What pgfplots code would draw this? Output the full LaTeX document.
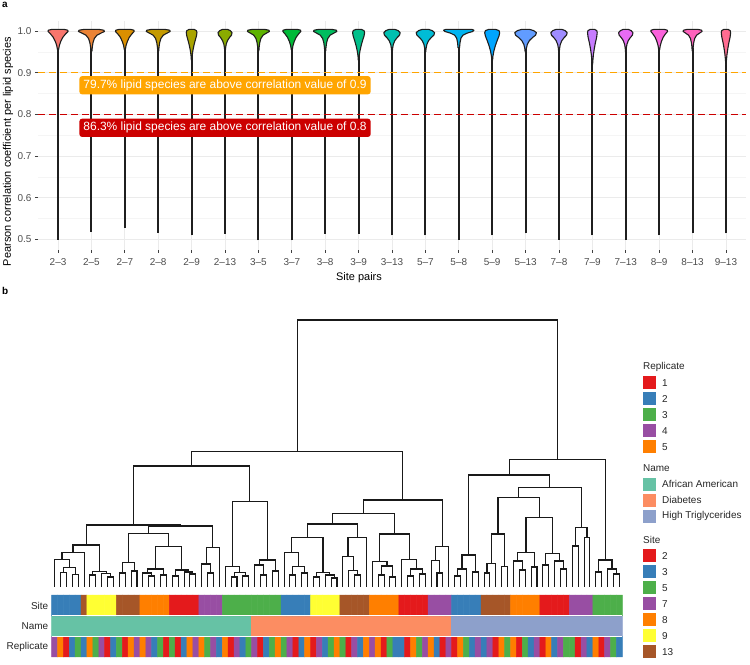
\documentclass[border=0pt]{standalone}
\usepackage{pgfplots}
\pgfplotsset{compat=1.18}
\usepackage{fontspec}
\setmainfont{Liberation Sans}
\definecolor{v0}{HTML}{F8766D}\definecolor{v1}{HTML}{EB8335}\definecolor{v2}{HTML}{DA8F00}
\definecolor{v3}{HTML}{C49A00}\definecolor{v4}{HTML}{A9A400}\definecolor{v5}{HTML}{8AAB00}
\definecolor{v6}{HTML}{5EB300}\definecolor{v7}{HTML}{00BA38}\definecolor{v8}{HTML}{00BD5F}
\definecolor{v9}{HTML}{00C08B}\definecolor{v10}{HTML}{00C0B0}\definecolor{v11}{HTML}{00BCD6}
\definecolor{v12}{HTML}{00B4F0}\definecolor{v13}{HTML}{00A5FF}\definecolor{v14}{HTML}{619CFF}
\definecolor{v15}{HTML}{9F8CFF}\definecolor{v16}{HTML}{C77CFF}\definecolor{v17}{HTML}{E76BF3}
\definecolor{v18}{HTML}{FA62DB}\definecolor{v19}{HTML}{FF62BC}\definecolor{v20}{HTML}{FF6C91}
\definecolor{sred}{HTML}{E41A1C}\definecolor{sblue}{HTML}{377EB8}\definecolor{sgreen}{HTML}{4DAF4A}
\definecolor{spurple}{HTML}{984EA3}\definecolor{sorange}{HTML}{FF7F00}\definecolor{syellow}{HTML}{FFFF33}
\definecolor{sbrown}{HTML}{A65628}
\definecolor{naa}{HTML}{66C2A5}\definecolor{ndia}{HTML}{FC8D62}\definecolor{nhtg}{HTML}{8DA0CB}
\definecolor{hlnine}{HTML}{FFA500}\definecolor{hleight}{HTML}{CC0000}
\definecolor{tickc}{HTML}{4D4D4D}
\newcommand{\lgd}[3]{\fill[#1] (643.3bp,#2bp) ++(0,-6.5bp) rectangle ++(13bp,13bp);
  \node[anchor=west, font=\fontsize{10}{12}\selectfont, inner sep=0pt, text=black!85] at (662bp,#2bp) {#3};}
\begin{document}
\begin{tikzpicture}
\useasboundingbox (0,0) rectangle (750bp,665bp);
% ---------------- panel a ----------------
\begin{axis}[
  at={(38bp,415bp)}, anchor=south west, scale only axis,
  width=708bp, height=229.4bp,
  xmin=-0.6, xmax=20.6, ymin=0.475, ymax=1.025,
  xtick={0,1,...,20},
  xticklabels={2--3,2--5,2--7,2--8,2--9,2--13,3--5,3--7,3--8,3--9,3--13,5--7,5--8,5--9,5--13,7--8,7--9,7--13,8--9,8--13,9--13},
  ytick={0.5,0.6,0.7,0.8,0.9,1},
  yticklabels={0.5,0.6,0.7,0.8,0.9,1.0},
  minor ytick={0.55,0.65,0.75,0.85,0.95},
  xmajorgrids, ymajorgrids, yminorgrids,
  major grid style={draw=black!8, line width=0.9bp},
  minor grid style={draw=black!4, line width=0.6bp},
  axis line style={draw=none},
  major tick length=3bp, minor tick length=0pt,
  tick align=outside,
  major tick style={draw=black!75, line width=0.9bp},
  xtick pos=bottom, ytick pos=left,
  ticklabel style={font=\fontsize{10}{12}\selectfont, text=tickc},
  xticklabel style={yshift=-2bp},
  /pgf/number format/assume math mode=true,
  xlabel={Site pairs}, ylabel={Pearson correlation coefficient per lipid species},
  label style={font=\fontsize{11}{13}\selectfont},
  xlabel style={at={(axis description cs:0.4534,0)}, anchor=center, yshift=-28bp},
  ylabel style={at={(axis description cs:-0.0424,0.429)}, anchor=center},
  unbounded coords=jump,
  clip=false,
]
% tails
\addplot[draw=black!88, line width=2.1bp] coordinates {
(0,0.500)(0,0.96)(nan,nan)(1,0.518)(1,0.96)(nan,nan)(2,0.528)(2,0.96)(nan,nan)
(3,0.516)(3,0.96)(nan,nan)(4,0.510)(4,0.95)(nan,nan)(5,0.514)(5,0.96)(nan,nan)
(6,0.498)(6,0.96)(nan,nan)(7,0.498)(7,0.96)(nan,nan)(8,0.514)(8,0.96)(nan,nan)
(9,0.514)(9,0.95)(nan,nan)(10,0.510)(10,0.96)(nan,nan)(11,0.510)(11,0.96)(nan,nan)
(12,0.500)(12,0.97)(nan,nan)(13,0.510)(13,0.95)(nan,nan)(14,0.515)(14,0.96)(nan,nan)
(15,0.500)(15,0.96)(nan,nan)(16,0.510)(16,0.94)(nan,nan)(17,0.500)(17,0.96)(nan,nan)
(18,0.510)(18,0.96)(nan,nan)(19,0.515)(19,0.96)(nan,nan)(20,0.515)(20,0.94)(nan,nan)
};
% threshold lines
\addplot[hlnine, line width=1.3bp, dash pattern=on 7bp off 4bp] coordinates {(-0.6,0.9)(20.6,0.9)};
\addplot[hleight, line width=1.3bp, dash pattern=on 7bp off 4bp] coordinates {(-0.6,0.8)(20.6,0.8)};
% violin heads
\addplot[fill=v0, draw=black!88, line width=1.1bp, line join=round] coordinates {
(0.180,1.004)(0.291,1.002)(0.300,0.999)(0.225,0.993)(0.144,0.985)(0.081,0.975)(0.039,0.965)(0.015,0.955)
(-0.015,0.955)(-0.039,0.965)(-0.081,0.975)(-0.144,0.985)(-0.225,0.993)(-0.300,0.999)(-0.291,1.002)(-0.180,1.004)} -- cycle;
\addplot[fill=v1, draw=black!88, line width=1.1bp, line join=round] coordinates {
(1.215,1.004)(1.371,1.002)(1.390,0.999)(1.312,0.996)(1.164,0.990)(1.086,0.982)(1.047,0.972)(1.027,0.962)(1.016,0.952)
(0.984,0.952)(0.973,0.962)(0.953,0.972)(0.914,0.982)(0.836,0.990)(0.688,0.996)(0.610,0.999)(0.629,1.002)(0.785,1.004)} -- cycle;
\addplot[fill=v2, draw=black!88, line width=1.1bp, line join=round] coordinates {
(2.168,1.004)(2.272,1.002)(2.280,0.999)(2.210,0.993)(2.134,0.985)(2.076,0.975)(2.036,0.965)(2.014,0.955)
(1.986,0.955)(1.964,0.965)(1.924,0.975)(1.866,0.985)(1.790,0.993)(1.720,0.999)(1.728,1.002)(1.832,1.004)} -- cycle;
\addplot[fill=v3, draw=black!88, line width=1.1bp, line join=round] coordinates {
(3.198,1.004)(3.342,1.002)(3.360,0.999)(3.288,0.996)(3.151,0.990)(3.079,0.982)(3.043,0.972)(3.025,0.962)(3.014,0.952)
(2.986,0.952)(2.975,0.962)(2.957,0.972)(2.921,0.982)(2.849,0.990)(2.712,0.996)(2.640,0.999)(2.658,1.002)(2.802,1.004)} -- cycle;
\addplot[fill=v4, draw=black!88, line width=1.1bp, line join=round] coordinates {
(4.072,1.004)(4.144,1.001)(4.160,0.996)(4.144,0.988)(4.109,0.978)(4.067,0.965)(4.035,0.952)(4.016,0.940)(4.008,0.930)
(3.992,0.930)(3.984,0.940)(3.965,0.952)(3.933,0.965)(3.891,0.978)(3.856,0.988)(3.840,0.996)(3.856,1.001)(3.928,1.004)} -- cycle;
\addplot[fill=v5, draw=black!88, line width=1.1bp, line join=round] coordinates {
(5.074,1.004)(5.158,1.001)(5.210,0.996)(5.193,0.990)(5.130,0.984)(5.074,0.977)(5.034,0.968)(5.015,0.958)(5.008,0.950)
(4.992,0.950)(4.985,0.958)(4.966,0.968)(4.926,0.977)(4.870,0.984)(4.807,0.990)(4.790,0.996)(4.842,1.001)(4.926,1.004)} -- cycle;
\addplot[fill=v6, draw=black!88, line width=1.1bp, line join=round] coordinates {
(6.182,1.004)(6.314,1.002)(6.330,0.999)(6.264,0.996)(6.139,0.990)(6.073,0.982)(6.040,0.972)(6.023,0.962)(6.013,0.952)
(5.987,0.952)(5.977,0.962)(5.960,0.972)(5.927,0.982)(5.861,0.990)(5.736,0.996)(5.670,0.999)(5.686,1.002)(5.818,1.004)} -- cycle;
\addplot[fill=v7, draw=black!88, line width=1.1bp, line join=round] coordinates {
(7.162,1.004)(7.262,1.002)(7.270,0.999)(7.203,0.993)(7.130,0.985)(7.073,0.975)(7.035,0.965)(7.014,0.955)
(6.986,0.955)(6.965,0.965)(6.927,0.975)(6.870,0.985)(6.797,0.993)(6.730,0.999)(6.738,1.002)(6.838,1.004)} -- cycle;
\addplot[fill=v8, draw=black!88, line width=1.1bp, line join=round] coordinates {
(8.193,1.004)(8.333,1.002)(8.350,0.999)(8.280,0.996)(8.147,0.990)(8.077,0.982)(8.042,0.972)(8.025,0.962)(8.014,0.952)
(7.986,0.952)(7.975,0.962)(7.958,0.972)(7.923,0.982)(7.853,0.990)(7.720,0.996)(7.650,0.999)(7.667,1.002)(7.807,1.004)} -- cycle;
\addplot[fill=v9, draw=black!88, line width=1.1bp, line join=round] coordinates {
(9.081,1.004)(9.162,1.001)(9.180,0.996)(9.162,0.988)(9.122,0.978)(9.076,0.965)(9.040,0.952)(9.018,0.940)(9.009,0.930)
(8.991,0.930)(8.982,0.940)(8.960,0.952)(8.924,0.965)(8.878,0.978)(8.838,0.988)(8.820,0.996)(8.838,1.001)(8.919,1.004)} -- cycle;
\addplot[fill=v10, draw=black!88, line width=1.1bp, line join=round] coordinates {
(10.086,1.004)(10.184,1.001)(10.245,0.996)(10.225,0.990)(10.152,0.984)(10.086,0.977)(10.039,0.968)(10.017,0.958)(10.010,0.950)
(9.990,0.950)(9.983,0.958)(9.961,0.968)(9.914,0.977)(9.848,0.984)(9.775,0.990)(9.755,0.996)(9.816,1.001)(9.914,1.004)} -- cycle;
\addplot[fill=v11, draw=black!88, line width=1.1bp, line join=round] coordinates {
(11.096,1.004)(11.206,1.001)(11.275,0.996)(11.253,0.990)(11.171,0.984)(11.096,0.977)(11.044,0.968)(11.019,0.958)(11.011,0.950)
(10.989,0.950)(10.981,0.958)(10.956,0.968)(10.904,0.977)(10.829,0.984)(10.747,0.990)(10.725,0.996)(10.794,1.001)(10.904,1.004)} -- cycle;
\addplot[fill=v12, draw=black!88, line width=1.1bp, line join=round] coordinates {
(12.387,1.004)(12.455,1.002)(12.419,0.999)(12.250,0.995)(12.123,0.990)(12.064,0.983)(12.036,0.972)(12.023,0.960)
(11.977,0.960)(11.964,0.972)(11.936,0.983)(11.877,0.990)(11.750,0.995)(11.581,0.999)(11.545,1.002)(11.613,1.004)} -- cycle;
\addplot[fill=v13, draw=black!88, line width=1.1bp, line join=round] coordinates {
(13.101,1.004)(13.203,1.001)(13.225,0.996)(13.203,0.988)(13.153,0.978)(13.095,0.965)(13.050,0.952)(13.023,0.940)(13.011,0.930)
(12.989,0.930)(12.977,0.940)(12.950,0.952)(12.905,0.965)(12.847,0.978)(12.797,0.988)(12.775,0.996)(12.797,1.001)(12.899,1.004)} -- cycle;
\addplot[fill=v14, draw=black!88, line width=1.1bp, line join=round] coordinates {
(14.114,1.004)(14.244,1.001)(14.325,0.996)(14.299,0.990)(14.202,0.984)(14.114,0.977)(14.052,0.968)(14.023,0.958)(14.013,0.950)
(13.987,0.950)(13.977,0.958)(13.948,0.968)(13.886,0.977)(13.798,0.984)(13.701,0.990)(13.675,0.996)(13.756,1.001)(13.886,1.004)} -- cycle;
\addplot[fill=v15, draw=black!88, line width=1.1bp, line join=round] coordinates {
(15.086,1.004)(15.184,1.001)(15.245,0.996)(15.225,0.990)(15.152,0.984)(15.086,0.977)(15.039,0.968)(15.017,0.958)(15.010,0.950)
(14.990,0.950)(14.983,0.958)(14.961,0.968)(14.914,0.977)(14.848,0.984)(14.775,0.990)(14.755,0.996)(14.816,1.001)(14.914,1.004)} -- cycle;
\addplot[fill=v16, draw=black!88, line width=1.1bp, line join=round] coordinates {
(16.065,1.004)(16.131,1.001)(16.145,0.996)(16.128,0.985)(16.090,0.972)(16.058,0.958)(16.032,0.944)(16.015,0.930)(16.007,0.920)
(15.993,0.920)(15.985,0.930)(15.968,0.944)(15.942,0.958)(15.910,0.972)(15.872,0.985)(15.855,0.996)(15.869,1.001)(15.935,1.004)} -- cycle;
\addplot[fill=v17, draw=black!88, line width=1.1bp, line join=round] coordinates {
(17.075,1.004)(17.161,1.001)(17.215,0.996)(17.198,0.990)(17.133,0.984)(17.075,0.977)(17.034,0.968)(17.015,0.958)(17.009,0.950)
(16.991,0.950)(16.985,0.958)(16.966,0.968)(16.925,0.977)(16.867,0.984)(16.802,0.990)(16.785,0.996)(16.839,1.001)(16.925,1.004)} -- cycle;
\addplot[fill=v18, draw=black!88, line width=1.1bp, line join=round] coordinates {
(18.150,1.004)(18.243,1.002)(18.250,0.999)(18.188,0.993)(18.120,0.985)(18.068,0.975)(18.033,0.965)(18.013,0.955)
(17.987,0.955)(17.967,0.965)(17.932,0.975)(17.880,0.985)(17.812,0.993)(17.750,0.999)(17.757,1.002)(17.850,1.004)} -- cycle;
\addplot[fill=v19, draw=black!88, line width=1.1bp, line join=round] coordinates {
(19.157,1.004)(19.271,1.002)(19.285,0.999)(19.228,0.996)(19.120,0.990)(19.063,0.982)(19.034,0.972)(19.020,0.962)(19.011,0.952)
(18.989,0.952)(18.980,0.962)(18.966,0.972)(18.937,0.982)(18.880,0.990)(18.772,0.996)(18.715,0.999)(18.729,1.002)(18.843,1.004)} -- cycle;
\addplot[fill=v20, draw=black!88, line width=1.1bp, line join=round] coordinates {
(20.063,1.004)(20.126,1.001)(20.140,0.996)(20.123,0.985)(20.087,0.972)(20.056,0.958)(20.031,0.944)(20.014,0.930)(20.007,0.920)
(19.993,0.920)(19.986,0.930)(19.969,0.944)(19.944,0.958)(19.913,0.972)(19.877,0.985)(19.860,0.996)(19.874,1.001)(19.937,1.004)} -- cycle;
% annotation labels
\node[fill=hlnine, text=white, rounded corners=2.5bp, inner xsep=4bp, inner ysep=3.5bp, font=\fontsize{12}{14}\selectfont] at (axis cs:5,0.87) {79.7\% lipid species are above correlation value of 0.9};
\node[fill=hleight, text=white, rounded corners=2.5bp, inner xsep=4bp, inner ysep=3.5bp, font=\fontsize{12}{14}\selectfont] at (axis cs:5,0.768) {86.3\% lipid species are above correlation value of 0.8};
\end{axis}
% ---------------- panel b ----------------
\begin{axis}[
  at={(51.7bp,8bp)}, anchor=south west, scale only axis,
  width=570.6bp, height=339bp,
  xmin=0.5, xmax=97.5, ymin=-70, ymax=269,
  axis line style={draw=none}, xtick=\empty,
  ytick={-59.7,-39.1,-18.5}, yticklabels={Replicate,Name,Site},
  major tick length=0pt,
  yticklabel style={font=\fontsize{10}{12}\selectfont, text=black!85},
  colormap={cat}{rgb255=(228,26,28) rgb255=(55,126,184) rgb255=(77,175,74) rgb255=(152,78,163) rgb255=(255,127,0) rgb255=(255,255,51) rgb255=(166,86,40) rgb255=(102,194,165) rgb255=(252,141,98) rgb255=(141,160,203)},
  colormap access=direct,
  unbounded coords=jump, clip=false,
]
\addplot[matrix plot*, mesh/cols=97, mesh/rows=3, point meta=explicit, shader=faceted, faceted color=mapped color, line width=0.5bp] coordinates {
(1,-59.7) [3] (2,-59.7) [4] (3,-59.7) [0] (4,-59.7) [1] (5,-59.7) [2] (6,-59.7) [1] (7,-59.7) [4] (8,-59.7) [2] (9,-59.7) [3] (10,-59.7) [0]
(11,-59.7) [1] (12,-59.7) [2] (13,-59.7) [0] (14,-59.7) [4] (15,-59.7) [3] (16,-59.7) [4] (17,-59.7) [3] (18,-59.7) [1] (19,-59.7) [2] (20,-59.7) [0]
(21,-59.7) [2] (22,-59.7) [0] (23,-59.7) [1] (24,-59.7) [4] (25,-59.7) [3] (26,-59.7) [4] (27,-59.7) [2] (28,-59.7) [3] (29,-59.7) [1] (30,-59.7) [4]
(31,-59.7) [0] (32,-59.7) [3] (33,-59.7) [1] (34,-59.7) [2] (35,-59.7) [3] (36,-59.7) [0] (37,-59.7) [1] (38,-59.7) [2] (39,-59.7) [4] (40,-59.7) [2]
(41,-59.7) [3] (42,-59.7) [0] (43,-59.7) [1] (44,-59.7) [4] (45,-59.7) [0] (46,-59.7) [3] (47,-59.7) [1] (48,-59.7) [2] (49,-59.7) [4] (50,-59.7) [2]
(51,-59.7) [0] (52,-59.7) [3] (53,-59.7) [1] (54,-59.7) [4] (55,-59.7) [3] (56,-59.7) [4] (57,-59.7) [0] (58,-59.7) [2] (59,-59.7) [1] (60,-59.7) [1]
(61,-59.7) [0] (62,-59.7) [4] (63,-59.7) [2] (64,-59.7) [3] (65,-59.7) [4] (66,-59.7) [1] (67,-59.7) [0] (68,-59.7) [3] (69,-59.7) [0] (70,-59.7) [4]
(71,-59.7) [2] (72,-59.7) [1] (73,-59.7) [3] (74,-59.7) [1] (75,-59.7) [3] (76,-59.7) [0] (77,-59.7) [4] (78,-59.7) [2] (79,-59.7) [4] (80,-59.7) [0]
(81,-59.7) [2] (82,-59.7) [1] (83,-59.7) [3] (84,-59.7) [0] (85,-59.7) [4] (86,-59.7) [1] (87,-59.7) [3] (88,-59.7) [2] (89,-59.7) [2] (90,-59.7) [0]
(91,-59.7) [3] (92,-59.7) [1] (93,-59.7) [4] (94,-59.7) [0] (95,-59.7) [3] (96,-59.7) [2] (97,-59.7) [1]
(1,-39.1) [7] (2,-39.1) [7] (3,-39.1) [7] (4,-39.1) [7] (5,-39.1) [7] (6,-39.1) [7] (7,-39.1) [7] (8,-39.1) [7] (9,-39.1) [7] (10,-39.1) [7]
(11,-39.1) [7] (12,-39.1) [7] (13,-39.1) [7] (14,-39.1) [7] (15,-39.1) [7] (16,-39.1) [7] (17,-39.1) [7] (18,-39.1) [7] (19,-39.1) [7] (20,-39.1) [7]
(21,-39.1) [7] (22,-39.1) [7] (23,-39.1) [7] (24,-39.1) [7] (25,-39.1) [7] (26,-39.1) [7] (27,-39.1) [7] (28,-39.1) [7] (29,-39.1) [7] (30,-39.1) [7]
(31,-39.1) [7] (32,-39.1) [7] (33,-39.1) [7] (34,-39.1) [7] (35,-39.1) [8] (36,-39.1) [8] (37,-39.1) [8] (38,-39.1) [8] (39,-39.1) [8] (40,-39.1) [8]
(41,-39.1) [8] (42,-39.1) [8] (43,-39.1) [8] (44,-39.1) [8] (45,-39.1) [8] (46,-39.1) [8] (47,-39.1) [8] (48,-39.1) [8] (49,-39.1) [8] (50,-39.1) [8]
(51,-39.1) [8] (52,-39.1) [8] (53,-39.1) [8] (54,-39.1) [8] (55,-39.1) [8] (56,-39.1) [8] (57,-39.1) [8] (58,-39.1) [8] (59,-39.1) [8] (60,-39.1) [8]
(61,-39.1) [8] (62,-39.1) [8] (63,-39.1) [8] (64,-39.1) [8] (65,-39.1) [8] (66,-39.1) [8] (67,-39.1) [8] (68,-39.1) [8] (69,-39.1) [9] (70,-39.1) [9]
(71,-39.1) [9] (72,-39.1) [9] (73,-39.1) [9] (74,-39.1) [9] (75,-39.1) [9] (76,-39.1) [9] (77,-39.1) [9] (78,-39.1) [9] (79,-39.1) [9] (80,-39.1) [9]
(81,-39.1) [9] (82,-39.1) [9] (83,-39.1) [9] (84,-39.1) [9] (85,-39.1) [9] (86,-39.1) [9] (87,-39.1) [9] (88,-39.1) [9] (89,-39.1) [9] (90,-39.1) [9]
(91,-39.1) [9] (92,-39.1) [9] (93,-39.1) [9] (94,-39.1) [9] (95,-39.1) [9] (96,-39.1) [9] (97,-39.1) [9]
(1,-18.5) [1] (2,-18.5) [1] (3,-18.5) [1] (4,-18.5) [1] (5,-18.5) [1] (6,-18.5) [6] (7,-18.5) [5] (8,-18.5) [5] (9,-18.5) [5] (10,-18.5) [5]
(11,-18.5) [5] (12,-18.5) [6] (13,-18.5) [6] (14,-18.5) [6] (15,-18.5) [6] (16,-18.5) [4] (17,-18.5) [4] (18,-18.5) [4] (19,-18.5) [4] (20,-18.5) [4]
(21,-18.5) [0] (22,-18.5) [0] (23,-18.5) [0] (24,-18.5) [0] (25,-18.5) [0] (26,-18.5) [3] (27,-18.5) [3] (28,-18.5) [3] (29,-18.5) [3] (30,-18.5) [2]
(31,-18.5) [2] (32,-18.5) [2] (33,-18.5) [2] (34,-18.5) [2] (35,-18.5) [2] (36,-18.5) [2] (37,-18.5) [2] (38,-18.5) [2] (39,-18.5) [2] (40,-18.5) [1]
(41,-18.5) [1] (42,-18.5) [1] (43,-18.5) [1] (44,-18.5) [1] (45,-18.5) [5] (46,-18.5) [5] (47,-18.5) [5] (48,-18.5) [5] (49,-18.5) [5] (50,-18.5) [6]
(51,-18.5) [6] (52,-18.5) [6] (53,-18.5) [6] (54,-18.5) [6] (55,-18.5) [4] (56,-18.5) [4] (57,-18.5) [4] (58,-18.5) [4] (59,-18.5) [4] (60,-18.5) [0]
(61,-18.5) [0] (62,-18.5) [0] (63,-18.5) [0] (64,-18.5) [0] (65,-18.5) [3] (66,-18.5) [3] (67,-18.5) [3] (68,-18.5) [3] (69,-18.5) [1] (70,-18.5) [1]
(71,-18.5) [1] (72,-18.5) [1] (73,-18.5) [1] (74,-18.5) [6] (75,-18.5) [6] (76,-18.5) [6] (77,-18.5) [6] (78,-18.5) [6] (79,-18.5) [4] (80,-18.5) [4]
(81,-18.5) [4] (82,-18.5) [4] (83,-18.5) [4] (84,-18.5) [0] (85,-18.5) [0] (86,-18.5) [0] (87,-18.5) [0] (88,-18.5) [0] (89,-18.5) [3] (90,-18.5) [3]
(91,-18.5) [3] (92,-18.5) [3] (93,-18.5) [2] (94,-18.5) [2] (95,-18.5) [2] (96,-18.5) [2] (97,-18.5) [2]
};
\addplot[white, line width=1.2bp] coordinates {(0.5,-28.8)(97.5,-28.8)};
\addplot[white, line width=1.2bp] coordinates {(0.5,-49.4)(97.5,-49.4)};
% dendrogram
\addplot[black!90, line width=1.1bp] coordinates {
(2,0)(2,14.7)(3,14.7)(3,0)(nan,nan)
(4,0)(4,12.7)(5,12.7)(5,0)(nan,nan)
(2.5,14.7)(2.5,19.3)(4.5,19.3)(4.5,12.7)(nan,nan)
(1,0)(1,27.7)(3.5,27.7)(3.5,19.3)(nan,nan)
(2.25,27.7)(2.25,34.7)(6,34.7)(6,0)(nan,nan)
(7,0)(7,12)(8,12)(8,0)(nan,nan)
(10,0)(10,10)(11,10)(11,0)(nan,nan)
(9,0)(9,13.7)(10.5,13.7)(10.5,10)(nan,nan)
(7.5,12)(7.5,15.3)(9.75,15.3)(9.75,13.7)(nan,nan)
(4.125,34.7)(4.125,42)(8.625,42)(8.625,15.3)(nan,nan)
(12,0)(12,14)(13,14)(13,0)(nan,nan)
(14,0)(14,16)(15,16)(15,0)(nan,nan)
(12.5,14)(12.5,24.3)(14.5,24.3)(14.5,16)(nan,nan)
(17,0)(17,11)(18,11)(18,0)(nan,nan)
(16,0)(16,14)(17.5,14)(17.5,11)(nan,nan)
(19,0)(19,12)(20,12)(20,0)(nan,nan)
(16.75,14)(16.75,18)(19.5,18)(19.5,12)(nan,nan)
(21,0)(21,11)(22,11)(22,0)(nan,nan)
(24,0)(24,13)(25,13)(25,0)(nan,nan)
(23,0)(23,15)(24.5,15)(24.5,13)(nan,nan)
(21.5,11)(21.5,17)(23.75,17)(23.75,15)(nan,nan)
(18.125,18)(18.125,40.3)(22.625,40.3)(22.625,17)(nan,nan)
(13.5,24.3)(13.5,53.7)(20.375,53.7)(20.375,40.3)(nan,nan)
(27,0)(27,14)(28,14)(28,0)(nan,nan)
(26,0)(26,23)(27.5,23)(27.5,14)(nan,nan)
(26.75,23)(26.75,39.7)(29,39.7)(29,0)(nan,nan)
(16.9375,53.7)(16.9375,61)(27.875,61)(27.875,39.7)(nan,nan)
(6.375,42)(6.375,62)(22.40625,62)(22.40625,61)(nan,nan)
(31,0)(31,10)(32,10)(32,0)(nan,nan)
(33,0)(33,11)(34,11)(34,0)(nan,nan)
(31.5,10)(31.5,14.3)(33.5,14.3)(33.5,11)(nan,nan)
(30,0)(30,20.3)(32.5,20.3)(32.5,14.3)(nan,nan)
(36,0)(36,12)(37,12)(37,0)(nan,nan)
(35,0)(35,22)(36.5,22)(36.5,12)(nan,nan)
(38,0)(38,16)(39,16)(39,0)(nan,nan)
(35.75,22)(35.75,27)(38.5,27)(38.5,16)(nan,nan)
(31.25,20.3)(31.25,85.3)(37.125,85.3)(37.125,27)(nan,nan)
(14.390625,62)(14.390625,121)(34.1875,121)(34.1875,85.3)(nan,nan)
(41,0)(41,12)(42,12)(42,0)(nan,nan)
(43,0)(43,14)(44,14)(44,0)(nan,nan)
(41.5,12)(41.5,20.3)(43.5,20.3)(43.5,14)(nan,nan)
(40,0)(40,34.3)(42.5,34.3)(42.5,20.3)(nan,nan)
(45,0)(45,10)(46,10)(46,0)(nan,nan)
(48,0)(48,9)(49,9)(49,0)(nan,nan)
(47,0)(47,12)(48.5,12)(48.5,9)(nan,nan)
(45.5,10)(45.5,14.3)(47.75,14.3)(47.75,12)(nan,nan)
(41.25,34.3)(41.25,49.3)(46.625,49.3)(46.625,14.3)(nan,nan)
(52,0)(52,12)(53,12)(53,0)(nan,nan)
(51,0)(51,16.3)(52.5,16.3)(52.5,12)(nan,nan)
(50,0)(50,30.3)(51.75,30.3)(51.75,16.3)(nan,nan)
(50.875,30.3)(50.875,49.7)(54,49.7)(54,0)(nan,nan)
(43.9375,49.3)(43.9375,63)(52.4375,63)(52.4375,49.7)(nan,nan)
(56,0)(56,12)(57,12)(57,0)(nan,nan)
(58,0)(58,10)(59,10)(59,0)(nan,nan)
(56.5,12)(56.5,21)(58.5,21)(58.5,10)(nan,nan)
(55,0)(55,25.3)(57.5,25.3)(57.5,21)(nan,nan)
(61,0)(61,11)(62,11)(62,0)(nan,nan)
(63,0)(63,13)(64,13)(64,0)(nan,nan)
(61.5,11)(61.5,18)(63.5,18)(63.5,13)(nan,nan)
(60,0)(60,27.7)(62.5,27.7)(62.5,18)(nan,nan)
(56.25,25.3)(56.25,53)(61.25,53)(61.25,27.7)(nan,nan)
(48.1875,63)(48.1875,73.7)(58.75,73.7)(58.75,53)(nan,nan)
(66,0)(66,14)(67,14)(67,0)(nan,nan)
(65,0)(65,26.3)(66.5,26.3)(66.5,14)(nan,nan)
(65.75,26.3)(65.75,40.3)(68,40.3)(68,0)(nan,nan)
(53.46875,73.7)(53.46875,87)(66.875,87)(66.875,40.3)(nan,nan)
(24.2890625,121)(24.2890625,135.3)(60.171875,135.3)(60.171875,87)(nan,nan)
(69,0)(69,11)(70,11)(70,0)(nan,nan)
(69.5,11)(69.5,18)(71,18)(71,0)(nan,nan)
(72,0)(72,15)(73,15)(73,0)(nan,nan)
(70.25,18)(70.25,32)(72.5,32)(72.5,15)(nan,nan)
(74,0)(74,14)(75,14)(75,0)(nan,nan)
(74.5,14)(74.5,23.7)(76,23.7)(76,0)(nan,nan)
(77,0)(77,20.3)(78,20.3)(78,0)(nan,nan)
(75.25,23.7)(75.25,53)(77.5,53)(77.5,20.3)(nan,nan)
(80,0)(80,17)(81,17)(81,0)(nan,nan)
(79,0)(79,26)(80.5,26)(80.5,17)(nan,nan)
(82,0)(82,20)(83,20)(83,0)(nan,nan)
(79.75,26)(79.75,34.3)(82.5,34.3)(82.5,20)(nan,nan)
(84,0)(84,22)(85,22)(85,0)(nan,nan)
(87,0)(87,18)(88,18)(88,0)(nan,nan)
(86,0)(86,26)(87.5,26)(87.5,18)(nan,nan)
(84.5,22)(84.5,33.7)(86.75,33.7)(86.75,26)(nan,nan)
(81.125,34.3)(81.125,69.7)(85.625,69.7)(85.625,33.7)(nan,nan)
(76.375,53)(76.375,89.7)(83.375,89.7)(83.375,69.7)(nan,nan)
(89,0)(89,41)(90,41)(90,0)(nan,nan)
(91,0)(91,49.7)(92,49.7)(92,0)(nan,nan)
(89.5,41)(89.5,59.7)(91.5,59.7)(91.5,49.7)(nan,nan)
(79.875,89.7)(79.875,99.7)(90.5,99.7)(90.5,59.7)(nan,nan)
(71.375,32)(71.375,112)(85.1875,112)(85.1875,99.7)(nan,nan)
(93,0)(93,15)(94,15)(94,0)(nan,nan)
(96,0)(96,13)(97,13)(97,0)(nan,nan)
(95,0)(95,18)(96.5,18)(96.5,13)(nan,nan)
(93.5,15)(93.5,27)(95.75,27)(95.75,18)(nan,nan)
(78.28125,112)(78.28125,127.7)(94.625,127.7)(94.625,27)(nan,nan)
(42.23046875,135.3)(42.23046875,267)(86.453125,267)(86.453125,127.7)
};
\end{axis}
% panel letters
\node[anchor=west, inner sep=0pt, font=\bfseries\fontsize{10}{12}\selectfont] at (2bp,660bp) {a};
\node[anchor=west, inner sep=0pt, font=\bfseries\fontsize{10}{12}\selectfont] at (2bp,374bp) {b};
% legends
\node[anchor=west, inner sep=0pt, font=\fontsize{10}{12}\selectfont, text=black!85] at (643bp,298.3bp) {Replicate};
\lgd{sred}{282.3}{1}
\lgd{sblue}{266.3}{2}
\lgd{sgreen}{250.3}{3}
\lgd{spurple}{234.3}{4}
\lgd{sorange}{218.3}{5}
\node[anchor=west, inner sep=0pt, font=\fontsize{10}{12}\selectfont, text=black!85] at (643bp,197bp) {Name};
\lgd{naa}{180.7}{African American}
\lgd{ndia}{164.7}{Diabetes}
\lgd{nhtg}{148.7}{High Triglycerides}
\node[anchor=west, inner sep=0pt, font=\fontsize{10}{12}\selectfont, text=black!85] at (643bp,125.5bp) {Site};
\lgd{sred}{109}{2}
\lgd{sblue}{93}{3}
\lgd{sgreen}{77}{5}
\lgd{spurple}{61}{7}
\lgd{sorange}{45}{8}
\lgd{syellow}{29}{9}
\lgd{sbrown}{13}{13}
\end{tikzpicture}
\end{document}
